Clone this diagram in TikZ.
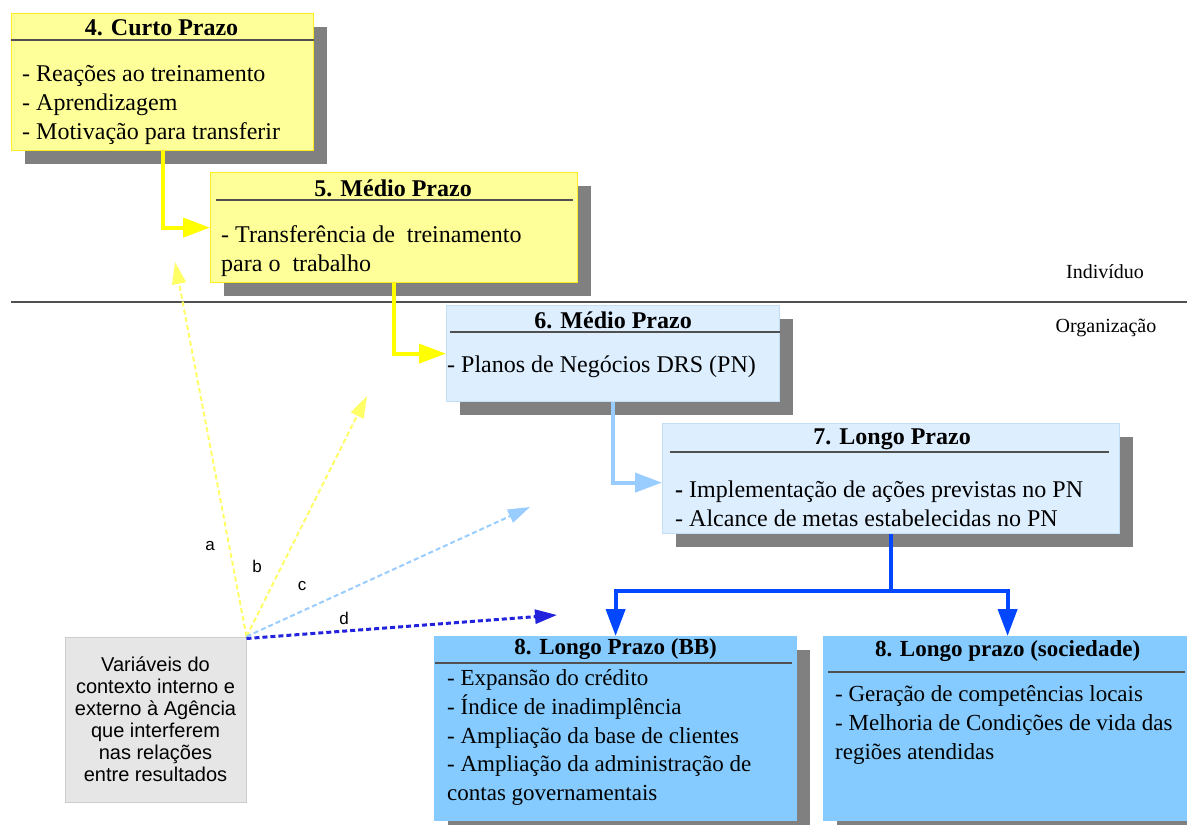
\documentclass[tikz,border=0pt]{standalone}
\usepackage{fontspec}
\setmainfont{Liberation Serif}
\setsansfont{Liberation Sans}
\usetikzlibrary{arrows.meta,shadows}

\definecolor{ylwfill}{HTML}{FFFF99}
\definecolor{ylwedge}{HTML}{FFEE22}
\definecolor{ylwline}{HTML}{FFFF00}
\definecolor{ylwdash}{HTML}{FFFF66}
\definecolor{paleblue}{HTML}{DDEEFF}
\definecolor{paleedge}{HTML}{C4DEF5}
\definecolor{skyfill}{HTML}{85CBFF}
\definecolor{lineblue}{HTML}{99CCFF}
\definecolor{deepblue}{HTML}{0047FF}
\definecolor{dashblue}{HTML}{2323DD}
\definecolor{shade}{HTML}{808080}
\definecolor{ctxfill}{HTML}{E6E6E6}
\definecolor{ctxedge}{HTML}{CCCCCC}
\definecolor{rulegray}{HTML}{505050}

\begin{document}
\begin{tikzpicture}[x=1pt,y=-1pt,
  box/.style={rectangle, anchor=north west, inner sep=0pt, line width=1.2pt,
    drop shadow={shadow xshift=13pt, shadow yshift=-13pt, fill=shade, opacity=1}},
  ybox/.style={box, fill=ylwfill, draw=ylwedge},
  pbox/.style={box, fill=paleblue, draw=paleedge},
  sbox/.style={box, fill=skyfill, draw=skyfill},
  ctxbox/.style={rectangle, fill=ctxfill, draw=ctxedge, line width=1pt, inner sep=0pt,
    align=center, font=\sffamily\fontsize{20}{22}\selectfont},
  boxtitle/.style={font=\fontsize{24}{28}\selectfont\bfseries, inner sep=0pt},
  smalltitle/.style={font=\fontsize{23}{28}\selectfont\bfseries, inner sep=0pt},
  boxbody/.style={font=\fontsize{24}{29}\selectfont, align=left, anchor=west, inner sep=0pt},
  smallbody/.style={boxbody, font=\fontsize{23}{29}\selectfont},
  hrule/.style={draw=rulegray, line width=1.3pt},
  flow/.style={line width=4pt, -{Triangle[length=27pt,width=19pt]}},
  influence/.style={dash pattern=on 5pt off 3pt, line width=2pt, -{Triangle[length=22pt,width=14pt]}},
  tag/.style={font=\sffamily\fontsize{17}{17}\selectfont, inner sep=0pt},
  side/.style={font=\fontsize{20}{24}\selectfont, inner sep=0pt}
]
\useasboundingbox (0,0) rectangle (1187,825);

% level separator
\draw[rulegray, line width=1.3pt] (11,302) -- (1187,302);
\node[side] (ind) at (1105,272) {Indivíduo};
\node[side] (org) at (1106,328) {Organização};

% 4. short term
\node[ybox, minimum width=302pt, minimum height=137pt] (b4) at (11,13) {};
\node[boxtitle] (h4) at ([xshift=-1pt,yshift=-15pt]b4.north) {4. Curto Prazo};
\draw[hrule] ([yshift=-27pt]b4.north west) -- ([yshift=-27pt]b4.north east);
\node[boxbody] (t4) at (22,105) {- Reações ao treinamento\\- Aprendizagem\\- Motivação para transferir};

% 5. medium term (individual)
\node[ybox, minimum width=367pt, minimum height=110pt] (b5) at (210,172) {};
\node[boxtitle] (h5) at ([xshift=-1pt,yshift=-16pt]b5.north) {5. Médio Prazo};
\draw[hrule] ([xshift=6pt,yshift=-28pt]b5.north west) -- ([xshift=-5pt,yshift=-28pt]b5.north east);
\node[boxbody] (t5) at (221,251) {- Transferência de\ \ treinamento\\para o\ \ trabalho};

% 6. medium term (organisation)
\node[pbox, minimum width=333pt, minimum height=96pt] (b6) at (446,305) {};
\node[boxtitle] (h6) at ([yshift=-15pt]b6.north) {6. Médio Prazo};
\draw[hrule] ([xshift=4pt,yshift=-27pt]b6.north west) -- ([yshift=-27pt]b6.north east);
\node[boxbody] (t6) at (447,367) {- Planos de Negócios DRS (PN)};

% 7. long term
\node[pbox, minimum width=457pt, minimum height=110pt] (b7) at (662,423) {};
\node[boxtitle] (h7) at ([xshift=1pt,yshift=-16pt]b7.north) {7. Longo Prazo};
\draw[hrule] ([xshift=8pt,yshift=-29pt]b7.north west) -- ([xshift=-11pt,yshift=-29pt]b7.north east);
\node[boxbody] (t7) at (675,503.5) {\textbf{-} Implementação de ações previstas no PN\\- Alcance de metas estabelecidas no PN};

% 8. long term (bank)
\node[sbox, minimum width=362pt, minimum height=184pt] (b8a) at (434,636) {};
\node[smalltitle] (h8a) at ([yshift=-13pt]b8a.north) {8. Longo Prazo (BB)};
\draw[hrule] ([xshift=1pt,yshift=-27pt]b8a.north west) -- ([xshift=-5pt,yshift=-27pt]b8a.north east);
\node[smallbody, font=\fontsize{23}{28.8}\selectfont] (t8a) at (447,737.5) {- Expansão do crédito\\- Índice de inadimplência\\- Ampliação da base de clientes\\- Ampliação da administração de\\contas governamentais};

% 8. long term (society)
\node[sbox, minimum width=364pt, minimum height=184pt] (b8b) at (823,636) {};
\node[smalltitle] (h8b) at ([xshift=2pt,yshift=-15pt]b8b.north) {8. Longo prazo (sociedade)};
\draw[hrule] ([xshift=5pt,yshift=-36pt]b8b.north west) -- ([xshift=-3pt,yshift=-36pt]b8b.north east);
\node[smallbody] (t8b) at (835,725) {- Geração de competências locais\\- Melhoria de Condições de vida das\\regiões atendidas};

% context variables
\node[ctxbox, minimum width=181pt, minimum height=165pt] (ctx) at (155.5,719.5)
  {Variáveis do\\contexto interno e\\externo à Agência\\que interferem\\nas relações\\entre resultados};

% main chain
\draw[flow, ylwline] (b4.south) |- (b5.west);
\draw[flow, ylwline] (b5.south) |- (b6.west);
\draw[flow, lineblue] (b6.south) |- ([yshift=-4pt]b7.west);
\coordinate (split) at (b7.south |- 0,591);
\draw[flow, deepblue] (b7.south) -- (split) -| (b8a.north);
\draw[flow, deepblue] (split) -| ([xshift=2pt]b8b.north);

% influences of the context
\coordinate (o) at (ctx.north east);
\coordinate (ea) at (175,262);
\coordinate (eb) at (367,396);
\coordinate (ec) at (530,507);
\coordinate (ed) at (557,615);
\draw[influence, ylwdash] (o) -- (ea);
\draw[influence, ylwdash] (o) -- (eb);
\draw[influence, lineblue] (o) -- (ec);
\draw[influence, dashblue, line width=3pt] ([yshift=-2pt]o) -- (ed);
\node[tag] (la) at (210,546) {a};
\node[tag] (lb) at (257,566) {b};
\node[tag] (lc) at (302,586) {c};
\node[tag] (ld) at (344,618) {d};
\end{tikzpicture}
\end{document}
